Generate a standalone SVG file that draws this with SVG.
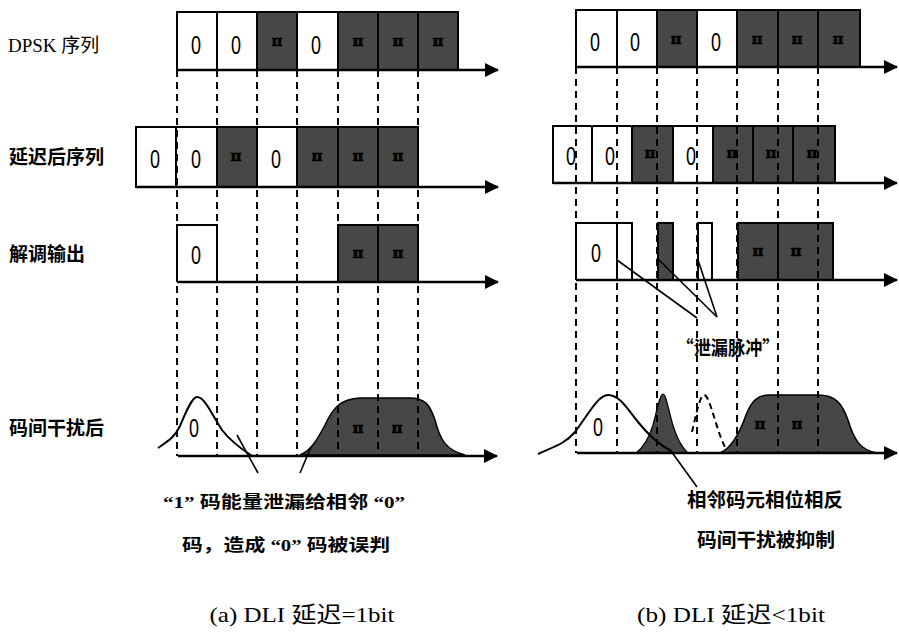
<svg xmlns="http://www.w3.org/2000/svg" width="899" height="632" viewBox="0 0 899 632">
<style>
.w{fill:#fff;stroke:#000;stroke-width:2}
.d{fill:#474747;stroke:#000;stroke-width:2}
.ln{fill:none;stroke:#000;stroke-width:2}
.ax{fill:none;stroke:#000;stroke-width:2.5}
.dash{fill:none;stroke:#000;stroke-width:2;stroke-dasharray:7 5}
.ptr{fill:none;stroke:#000;stroke-width:1.6}
.z{font-family:"Liberation Sans",sans-serif;font-size:25px;text-anchor:middle}
.pi{font-family:"DejaVu Serif",serif;font-size:15px;font-weight:bold;fill:#000;stroke:#000;stroke-width:0.6;text-anchor:middle}
.lab{font-family:"Noto Sans CJK SC",sans-serif;font-size:19px;font-weight:bold}
.ann{font-family:"Liberation Serif","Noto Sans CJK SC",sans-serif;font-size:17px;font-weight:bold;text-anchor:middle}
.annc{font-family:"Noto Sans CJK SC",sans-serif;font-size:19px;font-weight:bold;text-anchor:middle}
.cap{font-family:"Liberation Serif","Noto Sans CJK SC",serif;font-size:22px;text-anchor:middle}
</style>
<defs>
<marker id="arr" markerUnits="userSpaceOnUse" markerWidth="14" markerHeight="14" viewBox="0 0 14 14" refX="13" refY="7" orient="auto"><path d="M0,0 L14,7 L0,14 Z" fill="#000"/></marker>
</defs>
<rect width="899" height="632" fill="#fff"/>

<g id="labels">
<text x="8" y="52" font-family="Liberation Serif, serif" font-size="19">DPSK <tspan font-family="Noto Sans CJK SC, sans-serif">序列</tspan></text>
<text class="lab" x="9" y="164">延迟后序列</text>
<text class="lab" x="9" y="261">解调输出</text>
<text class="lab" x="9" y="435">码间干扰后</text>
</g>

<!-- Panel (a) -->
<g id="a-dpsk">
<rect class="w" x="177" y="12" width="40" height="58"/>
<rect class="w" x="217" y="12" width="40" height="58"/>
<rect class="d" x="257" y="12" width="40" height="58"/>
<rect class="w" x="297" y="12" width="41" height="58"/>
<rect class="d" x="338" y="12" width="40" height="58"/>
<rect class="d" x="378" y="12" width="40" height="58"/>
<rect class="d" x="418" y="12" width="40" height="58"/>
<line class="ax" x1="177" y1="70" x2="498" y2="70" marker-end="url(#arr)"/>
<text class="z" x="196" y="54" textLength="10" lengthAdjust="spacingAndGlyphs">0</text>
<text class="z" x="236" y="54" textLength="10" lengthAdjust="spacingAndGlyphs">0</text>
<text class="pi" x="277" y="46">π</text>
<text class="z" x="316" y="54" textLength="10" lengthAdjust="spacingAndGlyphs">0</text>
<text class="pi" x="358" y="46">π</text>
<text class="pi" x="398" y="46">π</text>
<text class="pi" x="438" y="46">π</text>
</g>

<g id="a-delay">
<rect class="w" x="136" y="127" width="40" height="60"/>
<rect class="w" x="176" y="127" width="41" height="60"/>
<rect class="d" x="217" y="127" width="40" height="60"/>
<rect class="w" x="257" y="127" width="40" height="60"/>
<rect class="d" x="297" y="127" width="41" height="60"/>
<rect class="d" x="338" y="127" width="40" height="60"/>
<rect class="d" x="378" y="127" width="40" height="60"/>
<line class="ax" x1="136" y1="187" x2="498" y2="187" marker-end="url(#arr)"/>
<text class="z" x="155" y="168" textLength="10" lengthAdjust="spacingAndGlyphs">0</text>
<text class="z" x="196" y="168" textLength="10" lengthAdjust="spacingAndGlyphs">0</text>
<text class="pi" x="236" y="161">π</text>
<text class="z" x="276" y="168" textLength="10" lengthAdjust="spacingAndGlyphs">0</text>
<text class="pi" x="317" y="161">π</text>
<text class="pi" x="358" y="161">π</text>
<text class="pi" x="398" y="161">π</text>
</g>

<g id="a-demod">
<rect class="d" x="338" y="225" width="40" height="57"/>
<rect class="d" x="378" y="225" width="40" height="57"/>
<path class="ln" d="M177,282 L177,225 L217,225 L217,282"/>
<line class="ax" x1="177" y1="282" x2="498" y2="282" marker-end="url(#arr)"/>
<text class="z" x="196" y="264" textLength="10" lengthAdjust="spacingAndGlyphs">0</text>
<text class="pi" x="358" y="258">π</text>
<text class="pi" x="398" y="258">π</text>
</g>

<g id="a-isi">
<path d="M300,455 C312,450 318,438 325,425 C333,408 340,399 360,398 L410,398 C425,398 430,405 435,420 C440,440 446,450 465,455 Z" fill="#474747" stroke="#000" stroke-width="1.5"/>
<path class="ln" d="M158,448 C168,441 175,437 180,426 C186,412 192,397 197,397 C205,397 212,415 222,430 C232,443 243,450 252,456"/>
<line class="ax" x1="178" y1="456" x2="497" y2="456" marker-end="url(#arr)"/>
<text class="z" x="194" y="437" textLength="10" lengthAdjust="spacingAndGlyphs">0</text>
<text class="pi" x="358" y="433">π</text>
<text class="pi" x="397" y="433">π</text>
</g>

<g id="a-notes">
<text class="ann" x="284" y="508" textLength="242" lengthAdjust="spacingAndGlyphs">“1” 码能量泄漏给相邻 “0”</text>
<text class="ann" x="286" y="551" textLength="208" lengthAdjust="spacingAndGlyphs">码，造成 “0” 码被误判</text>
<text class="cap" x="302" y="622" textLength="185" lengthAdjust="spacingAndGlyphs">(a) DLI 延迟=1bit</text>
</g>

<!-- Panel (b) -->
<g id="b-dpsk">
<rect class="w" x="576" y="10" width="41" height="57"/>
<rect class="w" x="617" y="10" width="40" height="57"/>
<rect class="d" x="657" y="10" width="40" height="57"/>
<rect class="w" x="697" y="10" width="40" height="57"/>
<rect class="d" x="737" y="10" width="41" height="57"/>
<rect class="d" x="778" y="10" width="40" height="57"/>
<rect class="d" x="818" y="10" width="42" height="57"/>
<line class="ax" x1="576" y1="67" x2="897" y2="67" marker-end="url(#arr)"/>
<text class="z" x="595" y="51" textLength="10" lengthAdjust="spacingAndGlyphs">0</text>
<text class="z" x="635" y="51" textLength="10" lengthAdjust="spacingAndGlyphs">0</text>
<text class="pi" x="676" y="44">π</text>
<text class="z" x="716" y="51" textLength="10" lengthAdjust="spacingAndGlyphs">0</text>
<text class="pi" x="757" y="44">π</text>
<text class="pi" x="797" y="44">π</text>
<text class="pi" x="838" y="44">π</text>
</g>

<g id="b-delay">
<rect class="w" x="553" y="126" width="39" height="57"/>
<rect class="w" x="592" y="126" width="40" height="57"/>
<rect class="d" x="632" y="126" width="41" height="57"/>
<rect class="w" x="673" y="126" width="40" height="57"/>
<rect class="d" x="713" y="126" width="40" height="57"/>
<rect class="d" x="753" y="126" width="40" height="57"/>
<rect class="d" x="793" y="126" width="42" height="57"/>
<line class="ax" x1="553" y1="183" x2="897" y2="183" marker-end="url(#arr)"/>
<text class="z" x="571" y="165" textLength="10" lengthAdjust="spacingAndGlyphs">0</text>
<text class="z" x="610" y="165" textLength="10" lengthAdjust="spacingAndGlyphs">0</text>
<text class="pi" x="650" y="158">π</text>
<text class="z" x="691" y="165" textLength="10" lengthAdjust="spacingAndGlyphs">0</text>
<text class="pi" x="732" y="158">π</text>
<text class="pi" x="771" y="158">π</text>
<text class="pi" x="812" y="158">π</text>
</g>

<g id="b-demod">
<path class="ln" d="M576,280 L576,223 L632,223 L632,280 M617,223 L617,280"/>
<rect class="d" x="658" y="223" width="15" height="57"/>
<path class="ln" d="M698,280 L698,223 L712,223 L712,280"/>
<rect class="d" x="738" y="223" width="40" height="57"/>
<rect class="d" x="778" y="223" width="55" height="57"/>
<line class="ax" x1="576" y1="280" x2="897" y2="280" marker-end="url(#arr)"/>
<text class="z" x="596" y="262" textLength="10" lengthAdjust="spacingAndGlyphs">0</text>
<text class="pi" x="758" y="256">π</text>
<text class="pi" x="796" y="256">π</text>
</g>

<g id="b-isi">
<path d="M720,453 C732,448 740,432 746,415 C752,400 758,395 770,395 L818,395 C835,395 842,403 848,420 C854,440 860,450 877,453 Z" fill="#474747" stroke="#000" stroke-width="1.5"/>
<path d="M636,453 C644,447 649,438 653,425 C657,410 660,394 663,394 C666,394 668,408 672,422 C676,436 680,446 688,453 Z" fill="#474747" stroke="#000" stroke-width="1.2"/>
<path class="ln" d="M538,454 C553,447 565,444 575,432 C588,415 598,395 608,395 C620,395 628,410 638,422 C650,437 660,445 671,451"/>
<path d="M692,432 C696,415 700,395 704,395 C710,395 716,430 725,447" fill="none" stroke="#000" stroke-width="2" stroke-dasharray="6 4"/>
<line class="ax" x1="577" y1="453" x2="897" y2="453" marker-end="url(#arr)"/>
<text class="z" x="598" y="436" textLength="10" lengthAdjust="spacingAndGlyphs">0</text>
<text class="pi" x="760" y="429">π</text>
<text class="pi" x="797" y="429">π</text>
</g>

<g id="b-notes">
<text class="annc" x="728" y="355" textLength="103" lengthAdjust="spacingAndGlyphs">“泄漏脉冲”</text>
<text class="annc" x="765" y="507" textLength="156" lengthAdjust="spacingAndGlyphs">相邻码元相位相反</text>
<text class="annc" x="766" y="547" textLength="138" lengthAdjust="spacingAndGlyphs">码间干扰被抑制</text>
<text class="cap" x="731" y="622" textLength="188" lengthAdjust="spacingAndGlyphs">(b) DLI 延迟&lt;1bit</text>
</g>

<g id="connectors">
<g class="dash">
<line x1="177" y1="70" x2="177" y2="456"/>
<line x1="217" y1="70" x2="217" y2="456"/>
<line x1="257" y1="70" x2="257" y2="456"/>
<line x1="297" y1="70" x2="297" y2="456"/>
<line x1="338" y1="70" x2="338" y2="456"/>
<line x1="378" y1="70" x2="378" y2="456"/>
<line x1="418" y1="70" x2="418" y2="456"/>
<line x1="576" y1="67" x2="576" y2="453"/>
<line x1="617" y1="67" x2="617" y2="453"/>
<line x1="657" y1="67" x2="657" y2="453"/>
<line x1="697" y1="67" x2="697" y2="453"/>
<line x1="737" y1="67" x2="737" y2="453"/>
<line x1="778" y1="67" x2="778" y2="453"/>
<line x1="818" y1="67" x2="818" y2="453"/>
</g>
<g class="ptr">
<line x1="237" y1="435" x2="258" y2="473"/>
<line x1="300" y1="473" x2="311" y2="447"/>
<line x1="617" y1="260" x2="697" y2="318"/>
<line x1="657" y1="258" x2="717" y2="317"/>
<line x1="698" y1="260" x2="717" y2="317"/>
<line x1="671" y1="451" x2="697" y2="487"/>
</g>
</g>
</svg>
